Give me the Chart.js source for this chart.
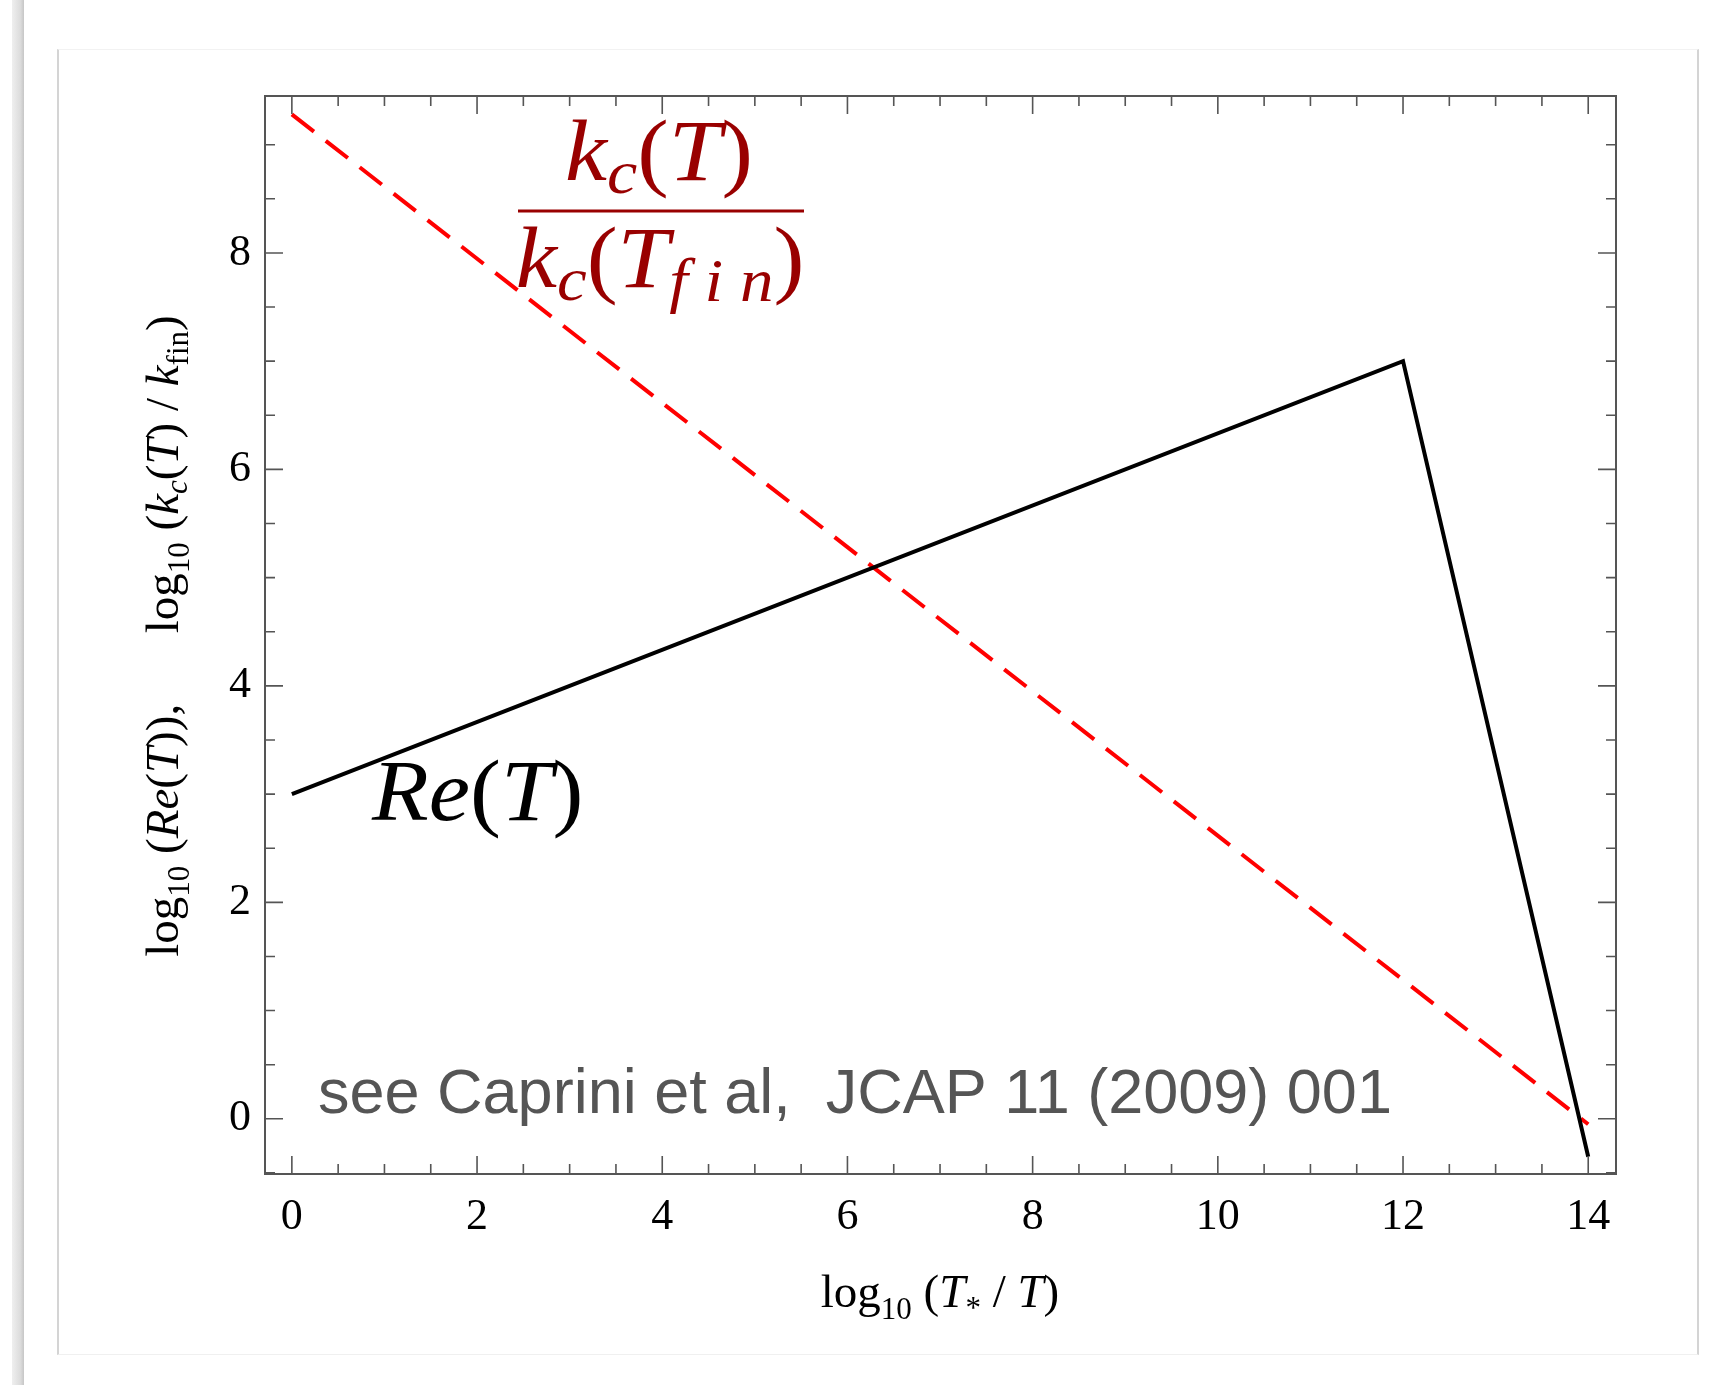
<!DOCTYPE html>
<html>
<head>
<meta charset="utf-8">
<script src="https://cdn.jsdelivr.net/npm/chart.js@4.4.0/dist/chart.umd.min.js"></script>
<style>
html, body { margin: 0; padding: 0; background: #fff; }
#page { position: relative; width: 1733px; height: 1385px; overflow: hidden; }
#bar { position: absolute; left: 12px; top: 0; width: 12px; height: 1385px;
       background: linear-gradient(to right, #efefef, #dcdcdc 70%, #c6c6c6); }
#card { position: absolute; left: 57px; top: 49px; width: 1638px; height: 1304px;
        border-left: 2px solid #d4d4d4; border-right: 2px solid #d4d4d4;
        border-top: 1px solid #f2f2f2; border-bottom: 1px solid #f0f0f0; }
#wrap { position: absolute; left: 0; top: 0; width: 1733px; height: 1385px; }
</style>
</head>
<body>
<div id="page">
  <div id="bar"></div>
  <div id="card"></div>
  <div id="wrap"><canvas id="graphique"></canvas></div>
</div>
<script>
// valeurs
const xTicks = [0, 2, 4, 6, 8, 10, 12, 14];
const yTicks = [0, 2, 4, 6, 8];
const xLimits = [-0.29, 14.3];
const yLimits = [-0.51, 9.45];

// log10(Re(T))
const reX = [0, 12, 14];
const reY = [3, 7, -0.35];

// log10(kc(T)/kfin)
const kcX = [0, 14];
const kcY = [9.28, -0.05];

const SERIF = '"Liberation Serif", "DejaVu Serif", serif';
const SANS = '"Liberation Sans", Arial, sans-serif';

function points(xs, ys) {
    return xs.map((x, i) => ({ x: x, y: ys[i] }));
}

// texte avec indices : [texte, police, decalage vertical]
function texteRiche(ctx, parts, x, y, align, sx) {
    sx = sx || 1;
    let w = 0;
    parts.forEach(p => { ctx.font = p[1]; w += ctx.measureText(p[0]).width; });
    ctx.save();
    ctx.translate(x, y);
    ctx.scale(sx, 1);
    let cx = align === 'center' ? -w / 2 : 0;
    parts.forEach(p => {
        ctx.font = p[1];
        ctx.fillText(p[0], cx, p[2] || 0);
        cx += ctx.measureText(p[0]).width;
    });
    ctx.restore();
    return w * sx;
}

const cadre = {
    id: 'cadre',
    afterDatasetsDraw(chart) {
        const { ctx, chartArea: a, scales: { x, y } } = chart;
        ctx.save();
        ctx.strokeStyle = '#555';
        ctx.lineWidth = 1.6;
        ctx.beginPath();
        // graduations vers l'intérieur, sur les 4 côtés
        for (let v = 0; v <= 14; v += 0.5) {
            const px = x.getPixelForValue(v);
            const len = xTicks.includes(v) ? 18 : 10;
            ctx.moveTo(px, a.bottom); ctx.lineTo(px, a.bottom - len);
            ctx.moveTo(px, a.top); ctx.lineTo(px, a.top + len);
        }
        for (let v = -0.5; v <= 9; v += 0.5) {
            const py = y.getPixelForValue(v);
            const len = yTicks.includes(v) ? 18 : 10;
            ctx.moveTo(a.left, py); ctx.lineTo(a.left + len, py);
            ctx.moveTo(a.right, py); ctx.lineTo(a.right - len, py);
        }
        ctx.stroke();
        ctx.lineWidth = 2;
        ctx.strokeRect(a.left, a.top, a.right - a.left, a.bottom - a.top);
        ctx.restore();
    }
};

const textes = {
    id: 'textes',
    afterDraw(chart) {
        const ctx = chart.ctx;
        ctx.save();
        ctx.textBaseline = 'alphabetic';
        ctx.textAlign = 'left';

        // titre axe x
        ctx.fillStyle = '#000';
        const R = '47px ' + SERIF, I = 'italic 47px ' + SERIF, S = '31px ' + SERIF;
        texteRiche(ctx, [['log', R], ['10', S, 12], [' (', R], ['T', I], ['*', S, 11],
            [' / ', R], ['T', I], [')', R]], 940, 1307, 'center');

        // titre axe y (vertical)
        ctx.save();
        ctx.translate(178, 636);
        ctx.rotate(-Math.PI / 2);
        const r = '47px ' + SERIF, it = 'italic 47px ' + SERIF, s = '31px ' + SERIF, si = 'italic 31px ' + SERIF;
        texteRiche(ctx, [['log', r], ['10', s, 11], [' (', r], ['Re', it], ['(', r], ['T', it], [')),', r],
            ['      log', r], ['10', s, 11], [' (', r], ['k', it], ['c', si, 9], ['(', r], ['T', it], [')', r],
            [' / ', r], ['k', it], ['fin', s, 10], [')', r]], 0, 0, 'center');
        ctx.restore();

        // Re(T)
        const B = '86px ' + SERIF, BI = 'italic 86px ' + SERIF;
        texteRiche(ctx, [['Re', BI], ['(', B], ['T', BI], [')', B]], 372, 820, 'left', 1.08);

        // fraction kc(T)/kc(Tfin)
        ctx.fillStyle = '#990000';
        const F = '86px ' + SERIF, FI = 'italic 86px ' + SERIF, FS = 'italic 62px ' + SERIF;
        texteRiche(ctx, [['k', FI], ['c', FS, 13], ['(', F], ['T', FI], [')', F]], 659, 180, 'center', 1.1);
        texteRiche(ctx, [['k', FI], ['c', FS, 13], ['(', F], ['T', FI], ['f i n', FS, 14], [')', F]], 660, 287, 'center', 1.08);
        ctx.fillRect(518, 209.5, 286, 3);

        // référence
        ctx.fillStyle = '#555';
        ctx.font = '63px ' + SANS;
        ctx.fillText('see Caprini et al,  JCAP 11 (2009) 001', 318, 1113);
        ctx.restore();
    }
};

const ctx = document.getElementById('graphique').getContext('2d');
new Chart(ctx, {
    type: 'scatter',
    data: {
        datasets: [{
            label: 'Re',
            data: points(reX, reY),
            showLine: true,
            borderColor: '#000',
            borderWidth: 4,
            pointRadius: 0,
            tension: 0
        }, {
            label: 'kc',
            data: points(kcX, kcY),
            showLine: true,
            borderColor: '#ff0000',
            borderWidth: 4,
            borderDash: [28, 15],
            pointRadius: 0,
            tension: 0
        }]
    },
    options: {
        responsive: true,
        maintainAspectRatio: false,
        animation: false,
        layout: { padding: { left: 0, top: 96, right: 117, bottom: 0 } },
        plugins: { legend: { display: false }, tooltip: { enabled: false } },
        scales: {
            x: {
                type: 'linear',
                min: xLimits[0],
                max: xLimits[1],
                afterBuildTicks: s => { s.ticks = xTicks.map(v => ({ value: v })); },
                afterFit: s => { s.height = 211; },
                grid: { display: false, drawTicks: false },
                border: { display: false },
                ticks: { color: '#000', padding: 17, font: { family: SERIF, size: 44 } }
            },
            y: {
                type: 'linear',
                min: yLimits[0],
                max: yLimits[1],
                afterBuildTicks: s => { s.ticks = yTicks.map(v => ({ value: v })); },
                afterFit: s => { s.width = 265; },
                grid: { display: false, drawTicks: false },
                border: { display: false },
                ticks: { color: '#000', padding: 14, font: { family: SERIF, size: 44 } }
            }
        }
    },
    plugins: [cadre, textes]
});
</script>
</body>
</html>
